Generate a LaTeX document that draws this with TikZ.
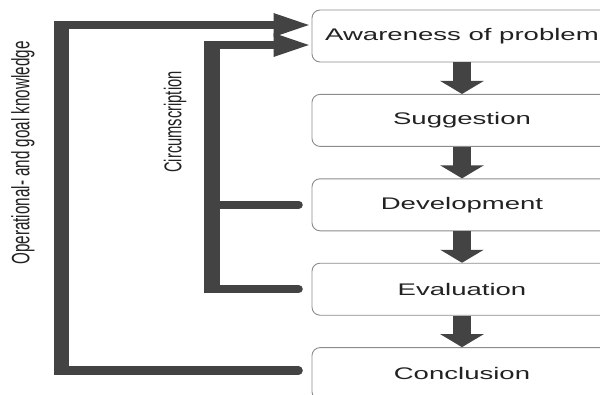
\documentclass[tikz,border=0pt]{standalone}
\usepackage{fontspec}
\setmainfont{Liberation Sans}
\usetikzlibrary{arrows.meta}
\usetikzlibrary{positioning}

\definecolor{darkbar}{HTML}{434343}
\definecolor{boxline}{HTML}{8C8C8C}
\definecolor{ink}{HTML}{222222}
\newcommand{\wide}[1]{\scalebox{1.64}[1]{#1}}

\begin{document}
\begin{tikzpicture}[x=1pt,y=-1pt,
    stage/.style={draw=boxline,line width=0.9pt,rounded corners=8pt,minimum width=300pt,
      minimum height=52pt,inner sep=0pt,text=ink,font=\fontsize{16.8}{20}\selectfont},
    down/.style={draw=darkbar,line width=18pt,-{Triangle[length=13pt,width=43pt]}},
    feed/.style={draw=darkbar,line width=8.5pt,line cap=round,line join=miter,
      -{Triangle[length=38pt,width=21pt]}},
    branch/.style={draw=darkbar,line width=8.5pt,line cap=round},
    sidelabel/.style={rotate=90,yscale=1.65,text=ink,inner sep=0pt}]
    \useasboundingbox (0,0) rectangle (600,394);
    \fill[white] (0,0) rectangle (600,394);
    \clip (0,0) rectangle (600,394);

    \node (aware) [stage] at (462,36) {\wide{Awareness of problem}};
    \node (sugg) [stage,below=31.5pt of aware] {\wide{Suggestion}};
    \node (devel) [stage,below=31.5pt of sugg] {\wide{Development}};
    \node (evalu) [stage,below=31.5pt of devel] {\wide{Evaluation}};
    \node (concl) [stage,below=31.5pt of evalu] {\wide{Conclusion}};

    \path (aware) edge[down] (sugg);
    \path (sugg) edge[down] (devel);
    \path (devel) edge[down] (evalu);
    \path (evalu) edge[down] (concl);

    % feedback loops back to the first step
    \coordinate (otop) at ([yshift=11pt]aware.west);
    \coordinate (itop) at ([yshift=-9pt]aware.west);
    \draw[feed] ([shift={(-13pt,3pt)}]concl.west) -- ++(-237,0) coordinate (obot) |- (otop);
    \draw[feed] ([xshift=-13pt]evalu.west) -- ++(-87,0) coordinate (ibot) |- (itop);
    \draw[branch] ([xshift=-13pt]devel.west) -- (ibot |- devel.west);
    \coordinate (ocorner) at (obot |- otop);
    \coordinate (icorner) at (ibot |- itop);
    \draw[darkbar,line width=15pt] ([yshift=-4.25pt]obot) -- ([yshift=4.25pt]ocorner);
    \draw[darkbar,line width=16pt] ([yshift=-4.25pt]ibot) -- ([yshift=4.25pt]icorner);

    \node (opknow) [sidelabel,font=\fontsize{15.2}{18}\selectfont] at (23,153)
      {Operational- and goal knowledge};
    \node (circum) [sidelabel,font=\fontsize{14.7}{18}\selectfont] at (175,122)
      {Circumscription};
  \end{tikzpicture}
\end{document}
